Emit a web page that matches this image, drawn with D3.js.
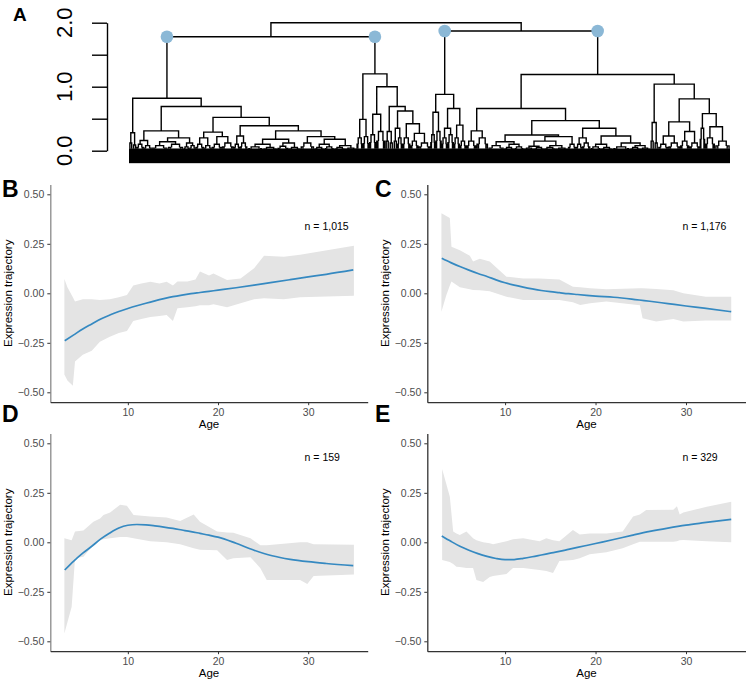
<!DOCTYPE html>
<html><head><meta charset="utf-8">
<script src="https://cdn.jsdelivr.net/npm/d3@7"></script>
<style>
body{margin:0;background:#fff}
svg{display:block}
text{font-family:"Liberation Sans",Arial,Helvetica,sans-serif}
</style>
</head><body>
<svg id="chart" width="746" height="682"></svg>
<script>
// ---------------- DATA ----------------
// Dendrogram (panel A): internal node = [height, left, right]; terminal bundle = [height, geneCount]
const clusterB = [0.82,
  [0.28, [0.12,16], [0.09,18]],
  [0.69,
    [0.31,
      [0.16, [0.1,31], [0.08,36]],
      [0.20, [0.14, [0.08,71], [0.1,71]], [0.12, [0.06,27], [0.08,27]]]
    ],
    [0.52,
      [0.29, [0.2, [0.1,36], [0.08,36]], [0.22, [0.1,45], [0.12,53]]],
      [0.39,
        [0.23, [0.1,27], [0.12,33]],
        [0.31,
          [0.18, [0.1, [0.06,70], [0.05,64]], [0.12, [0.07,50], [0.05,53]]],
          [0.22, [0.12,62], [0.18, [0.1, [0.05,44], [0.06,45]], [0.08, [0.05,48], [0.04,52]]]]
        ]
      ]
    ]
  ]
];
const clusterE = [1.2,
  [0.49, [0.2,27], [0.22,29]],
  [1.0,
    [0.57, [0.25,31], [0.3,40]],
    [0.69,
      [0.3, [0.15,18], [0.12,18]],
      [0.62,
        [0.35, [0.15,18], [0.2,22]],
        [0.42, [0.2,36], [0.27, [0.15,36], [0.12,54]]]
      ]
    ]
  ]
];
const clusterD = [0.88,
  [0.6, [0.25,22], [0.3,27]],
  [0.66, [0.35, [0.2,27], [0.25,27]], [0.4, [0.2,27], [0.15,29]]]
];
const clusterC = [1.19,
  [0.66,
    [0.31, [0.15,45], [0.2,53]],
    [0.47,
      [0.245,
        [0.14, [0.08,71], [0.1, [0.05,44], [0.06,45]]],
        [0.22, [0.15, [0.07, [0.04,44], [0.05,45]], [0.08, [0.05,52], [0.04,55]]], [0.1,36]]
      ],
      [0.35,
        [0.2, [0.1,27], [0.12,36]],
        [0.23, [0.1, [0.06,48], [0.05,50]], [0.12, [0.06,80], [0.08, [0.05,44], [0.04,45]]]]
      ]
    ]
  ],
  [1.04,
    [0.44, [0.15,18], [0.12,18]],
    [0.81,
      [0.45, [0.23, [0.1,45], [0.12,53]], [0.3, [0.15,40], [0.12,48]]],
      [0.58, [0.35,22], [0.375, [0.2,45], [0.15,67]]]
    ]
  ]
];
const dendrogramTree = [2.0, [1.78, clusterB, clusterE], [1.87, clusterD, clusterC]];
const dendroTicks = [0, 0.5, 1, 1.5, 2];
const dendroTickLabels = ["0.0", "", "1.0", "", "2.0"];

// Trajectory panels
const ageTicks = [10, 20, 30];
const trajTicks = [-0.5, -0.25, 0, 0.25, 0.5];
const lineAges = [3,4,5,6,7,8,9,10,11,12,13,14,15,16,17,18,19,20,22,24,26,28,30,32,35];
const fitB = [-0.24,-0.21,-0.18,-0.155,-0.13,-0.11,-0.092,-0.077,-0.063,-0.05,-0.038,-0.027,-0.017,-0.009,-0.002,0.004,0.01,0.016,0.028,0.041,0.055,0.069,0.083,0.096,0.118];
const fitC = [0.177,0.155,0.135,0.117,0.1,0.085,0.068,0.053,0.041,0.031,0.022,0.014,0.008,0.003,-0.002,-0.006,-0.01,-0.014,-0.02,-0.029,-0.04,-0.052,-0.064,-0.075,-0.093];
const fitD = [-0.14,-0.095,-0.055,-0.02,0.017,0.047,0.072,0.086,0.09,0.088,0.083,0.077,0.07,0.062,0.054,0.045,0.036,0.026,-0.005,-0.04,-0.068,-0.086,-0.098,-0.107,-0.118];
const fitE = [0.032,0.005,-0.02,-0.04,-0.057,-0.071,-0.082,-0.088,-0.087,-0.081,-0.073,-0.064,-0.055,-0.046,-0.036,-0.026,-0.016,-0.006,0.014,0.035,0.055,0.072,0.087,0.099,0.116];

const bandAgesB = [2.96,3.3,3.9,4.14,5.0,6.0,6.9,8.0,9.0,9.9,10.6,11.5,12.5,13.5,14.3,15.0,15.5,16.6,17.5,18.0,19.0,19.5,21.0,22.5,24.0,25.1,27.3,29.1,35.07];
const bandLoB = [-0.41,-0.44,-0.467,-0.345,-0.31,-0.29,-0.245,-0.22,-0.2,-0.19,-0.14,-0.13,-0.12,-0.115,-0.11,-0.14,-0.075,-0.07,-0.065,-0.06,-0.06,-0.055,-0.07,-0.05,-0.03,-0.025,-0.03,-0.02,-0.012];
const bandHiB = [0.072,0.03,-0.02,-0.042,-0.03,-0.03,-0.034,-0.03,-0.02,-0.008,0.04,0.05,0.058,0.05,0.058,0.04,0.06,0.06,0.07,0.11,0.09,0.1,0.067,0.075,0.126,0.19,0.185,0.195,0.24];

const bandAgesC = [2.96,3.5,3.89,4.07,5.0,6.1,6.46,7.2,8.3,10.15,12,13.8,16,17.5,18.3,19.4,21.2,24.9,25.2,26.7,28.6,29.7,32.2,35];
const bandLoC = [-0.093,-0.01,0.04,0.059,0.03,0.02,0.017,0.015,0.01,-0.017,-0.034,-0.034,-0.034,-0.045,-0.059,-0.05,-0.042,-0.06,-0.126,-0.143,-0.13,-0.143,-0.138,-0.138];
const bandHiC = [0.404,0.39,0.38,0.235,0.218,0.19,0.16,0.175,0.16,0.084,0.075,0.075,0.07,0.033,0.03,0.025,0.02,0.025,0.025,0.022,0.015,0.0,-0.017,-0.017];

const bandAgesD = [2.96,3.77,4.14,5.07,6.18,6.92,7.3,8.03,9.14,9.89,10.63,12.48,14.3,15.8,17.3,18.0,19.9,21.0,21.7,23.6,24.7,25.4,29.1,29.9,30.6,35.07];
const bandLoD = [-0.46,-0.325,-0.081,-0.073,-0.014,0.01,0.015,0.02,0.027,0.027,0.02,0.005,0.0,-0.01,-0.03,-0.037,-0.04,-0.089,-0.08,-0.075,-0.131,-0.19,-0.19,-0.21,-0.17,-0.162];
const bandHiD = [0.02,0.01,0.054,0.06,0.104,0.12,0.138,0.15,0.19,0.185,0.138,0.13,0.125,0.107,0.14,0.104,0.054,0.05,0.048,0.02,-0.015,-0.015,0.0,0.0,-0.01,-0.013];

const bandAgesE = [3.04,3.89,4.26,4.62,4.99,5.73,6.46,6.83,7.57,8.3,8.67,10.15,10.88,12.0,13.8,14.56,15.3,16.0,17.5,18.25,19.35,21.2,23.0,24.15,24.9,25.6,28.6,29.0,29.3,29.7,32.3,35];
const bandLoE = [-0.089,-0.1,-0.11,-0.123,-0.125,-0.13,-0.13,-0.19,-0.2,-0.175,-0.17,-0.16,-0.13,-0.13,-0.14,-0.145,-0.155,-0.095,-0.09,-0.08,-0.06,-0.05,-0.03,-0.01,0.003,0.003,0.003,0.005,0.01,0.012,0.005,0.0];
const bandHiE = [0.37,0.23,0.054,0.045,0.037,0.054,0.02,0.01,0.0,-0.005,-0.01,0.005,0.015,0.02,0.005,0.02,0.01,0.005,0.062,0.04,0.045,0.045,0.055,0.13,0.14,0.163,0.165,0.182,0.14,0.15,0.18,0.205];

const panelLetters = ["A","B","C","D","E"];
const nLabels = ["n = 1,015","n = 1,176","n = 159","n = 329"];

// ---------------- DRAW ----------------
const svg = d3.select("#chart");
svg.append("rect").attr("width",746).attr("height",682).attr("fill","#fff");

// ---- Panel A: dendrogram ----
(function(){
  const root = d3.hierarchy(dendrogramTree, d => d.length === 3 ? [d[1], d[2]] : null);
  root.eachAfter(nd => { nd.n = nd.children ? nd.children[0].n + nd.children[1].n : nd.data[1]; });
  let cum = 0;
  root.leaves().forEach(l => { l.x0 = cum; l.x1 = cum + l.n; cum += l.n; l.xc = (l.x0 + l.x1)/2; });
  root.eachAfter(nd => { if (nd.children) nd.xc = (nd.children[0].xc + nd.children[1].xc)/2; });
  const xL = d3.scaleLinear().domain([0, root.n]).range([129, 730]);
  const yH = d3.scaleLinear().domain([0, 2]).range([150.7, 22.7]);
  const g = svg.append("g");
  // dense leaf band (hanging leaves)
  g.append("rect").attr("x", xL(0)).attr("y", yH(0.035)).attr("width", xL(root.n)-xL(0))
    .attr("height", yH(-0.195)-yH(0.035)).attr("fill","#000");
  const segs = [];
  const base = yH(0.03);
  root.each(nd => {
    const h = nd.data[0];
    if (nd.children) {
      const [a,b] = nd.children;
      segs.push(`M${xL(a.xc)},${yH(a.data[0])}V${yH(h)}H${xL(b.xc)}V${yH(b.data[0])}`);
    } else {
      // terminal bundle: a bracket whose arms split once more into the leaf band
      const w = nd.n;
      const l = nd.x0 + w*0.25, r = nd.x1 - w*0.25;
      if (w >= 20) {
        const hs = h*0.5;
        segs.push(`M${xL(l)},${yH(hs)}V${yH(h)}H${xL(r)}V${yH(hs)}`);
        [[nd.x0, l],[r, nd.x1]].forEach(([s,e]) => {
          const c = (s+e)/2, half = (e-s)/2;
          segs.push(`M${xL(s + half*0.5)},${base}V${yH(hs)}H${xL(e - half*0.5)}V${base}`);
        });
      } else {
        segs.push(`M${xL(l)},${base}V${yH(h)}H${xL(r)}V${base}`);
      }
    }
  });
  g.append("path").attr("d", segs.join("")).attr("fill","none").attr("stroke","#000").attr("stroke-width",1.4);
  // cluster markers
  root.descendants().filter(d => d.depth === 2).forEach(d => {
    g.append("circle").attr("cx", xL(d.xc)).attr("cy", yH(d.parent.data[0])).attr("r", 6.3).attr("fill","#8bb8d6");
  });
  // axis
  const ax = g.append("g").attr("transform","translate(107,0)")
    .call(d3.axisLeft(yH).tickValues(dendroTicks).tickSize(15).tickSizeOuter(0).tickFormat(""));
  ax.select(".domain").attr("stroke","#000").attr("stroke-width",1.4);
  ax.selectAll(".tick line").attr("stroke","#000").attr("stroke-width",1.4);
  dendroTicks.forEach((t,i) => {
    if (!dendroTickLabels[i]) return;
    g.append("text").attr("transform",`translate(72,${yH(t)}) rotate(-90)`).attr("text-anchor","middle")
      .attr("font-size",22).attr("fill","#000").text(dendroTickLabels[i]);
  });
})();

// ---- Panels B-E ----
const panels = [
  {letter: panelLetters[1], n: nLabels[0], nv: 0.34, fit: fitB, ages: bandAgesB, lo: bandLoB, hi: bandHiB, x0: 50.3, x1: 367.7, y0: 293.3, lx: 2, ly: 197, yAxisCol: "#8a8a8a"},
  {letter: panelLetters[2], n: nLabels[1], nv: 0.34, fit: fitC, ages: bandAgesC, lo: bandLoC, hi: bandHiC, x0: 427.3, x1: 745.7, y0: 293.3, lx: 375, ly: 197, yAxisCol: "#333"},
  {letter: panelLetters[3], n: nLabels[2], nv: 0.43, fit: fitD, ages: bandAgesD, lo: bandLoD, hi: bandHiD, x0: 50.3, x1: 367.7, y0: 542.3, lx: 2, ly: 422, yAxisCol: "#8a8a8a"},
  {letter: panelLetters[4], n: nLabels[3], nv: 0.43, fit: fitE, ages: bandAgesE, lo: bandLoE, hi: bandHiE, x0: 427.3, x1: 745.7, y0: 542.3, lx: 375, ly: 422, yAxisCol: "#333"}
];
panels.forEach(p => {
  const x = d3.scaleLinear().domain([1.4, 36.6]).range([p.x0, p.x1]);
  const y = d3.scaleLinear().domain([-0.55, 0.55]).range([p.y0 + 0.55*198, p.y0 - 0.55*198]);
  const g = svg.append("g");
  const band = p.ages.map((a,i) => ({a, lo: p.lo[i], hi: p.hi[i]}));
  g.append("path").datum(band).attr("fill","#e4e4e4")
    .attr("d", d3.area().x(d => x(d.a)).y0(d => y(d.lo)).y1(d => y(d.hi)));
  const fit = lineAges.map((a,i) => ({a, v: p.fit[i]}));
  g.append("path").datum(fit).attr("fill","none").attr("stroke","#3589c1").attr("stroke-width",1.7)
    .attr("d", d3.line().x(d => x(d.a)).y(d => y(d.v)).curve(d3.curveMonotoneX));
  const yb = y(-0.55), yt = y(0.55);
  const ay = g.append("g").attr("transform",`translate(${p.x0},0)`)
    .call(d3.axisLeft(y).tickValues(trajTicks).tickSize(3).tickSizeOuter(0).tickPadding(3).tickFormat(d3.format(".2f")));
  ay.select(".domain").attr("stroke", p.yAxisCol).attr("stroke-width",1.3);
  ay.selectAll(".tick line").attr("stroke","#333");
  ay.selectAll(".tick text").attr("font-size",10.5).attr("fill","#4d4d4d").attr("font-family","Liberation Sans, Arial, sans-serif");
  const axb = g.append("g").attr("transform",`translate(0,${yb})`)
    .call(d3.axisBottom(x).tickValues(ageTicks).tickSize(3).tickSizeOuter(0).tickPadding(3));
  axb.select(".domain").attr("stroke","#333").attr("stroke-width",1.3);
  axb.selectAll(".tick line").attr("stroke","#333");
  axb.selectAll(".tick text").attr("font-size",10.5).attr("fill","#4d4d4d").attr("font-family","Liberation Sans, Arial, sans-serif");
  g.append("text").attr("x",(p.x0+p.x1)/2).attr("y",yb+25.5).attr("text-anchor","middle")
    .attr("font-size",11.5).attr("fill","#000").text("Age");
  g.append("text").attr("transform",`translate(${p.x0-38.8},${(yb+yt)/2}) rotate(-90)`).attr("text-anchor","middle")
    .attr("font-size",11.5).attr("fill","#000").text("Expression trajectory");
  g.append("text").attr("x", x(29.6)).attr("y", y(p.nv)+4).attr("font-size",10.5).attr("fill","#000").text(p.n);
  svg.append("text").attr("x",p.lx).attr("y",p.ly).attr("font-size",23).attr("font-weight","bold").attr("fill","#000").text(p.letter);
});
svg.append("text").attr("x",13).attr("y",21).attr("font-size",19).attr("font-weight","bold").attr("fill","#000").text(panelLetters[0]);
</script>
</body></html>
